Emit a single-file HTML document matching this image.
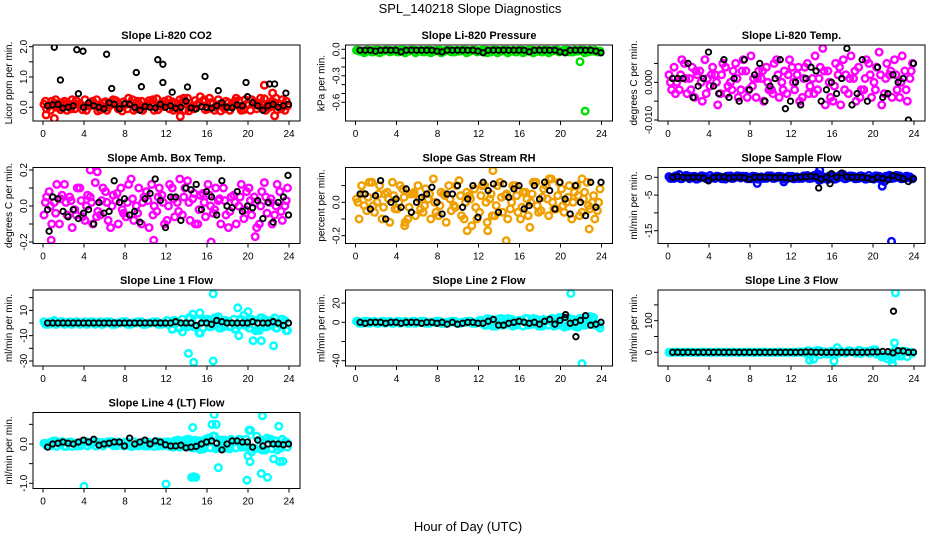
<!DOCTYPE html>
<html><head><meta charset="utf-8"><style>
html,body{margin:0;padding:0;background:#fff;width:936px;height:540px;overflow:hidden}
svg{display:block;font-family:"Liberation Sans",Arial,sans-serif}
</style></head><body>
<svg id="chart" width="936" height="540" viewBox="0 0 936 540" xmlns="http://www.w3.org/2000/svg">
<text x="470" y="13" font-size="13" text-anchor="middle">SPL_140218  Slope Diagnostics</text>
<text x="468" y="531" font-size="13" text-anchor="middle">Hour of Day (UTC)</text>
</svg>
<script>
const hrs=[0.25,0.75,1.25,1.75,2.25,2.75,3.25,3.75,4.25,4.75,5.25,5.75,6.25,6.75,7.25,7.75,8.25,8.75,9.25,9.75,10.25,10.75,11.25,11.75,12.25,12.75,13.25,13.75,14.25,14.75,15.25,15.75,16.25,16.75,17.25,17.75,18.25,18.75,19.25,19.75,20.25,20.75,21.25,21.75,22.25,22.75,23.25,23.75];
const xTicks=[0,4,8,12,16,20,24];

const co2A=[0.1,0.05,0.15,0.0,0.2,0.1,-0.05,0.12,0.25,0.05,0.1,-0.08,0.18,0.08,0.22,0.0,0.1,0.15,-0.05,0.2,0.05,0.12,0.28,0.02,0.1,0.18,-0.06,0.15,0.3,0.05,0.1,0.2,-0.05,0.12,0.25,0.0,0.15,0.08,0.22,-0.08,0.1,0.18,0.05,0.28,0.0,0.15,0.1,-0.1];
const co2B=[-0.05,0.2,0.0,0.15,-0.1,0.25,0.1,-0.08,0.05,0.2,-0.12,0.15,0.0,0.25,-0.05,0.18,0.3,-0.1,0.12,0.0,0.22,-0.1,0.05,0.2,-0.05,0.1,0.25,-0.1,0.0,0.22,0.35,-0.08,0.15,0.0,-0.12,0.2,0.05,0.3,-0.1,0.1,0.25,-0.05,0.15,0.0,0.2,-0.08,0.25,0.05];
const co2C=[0.2,-0.1,0.25,-0.08,0.12,-0.05,0.22,0.05,-0.1,0.15,0.25,0.05,-0.1,0.15,0.1,-0.12,-0.05,0.25,0.2,-0.1,0.12,0.25,-0.08,0.1,0.25,-0.1,0.12,0.3,-0.12,-0.05,0.15,0.25,0.3,-0.1,0.1,-0.05,-0.1,0.2,0.0,0.25,-0.1,0.08,0.3,-0.1,0.1,0.3,-0.05,0.2];
const co2Blk=[0.05,0.08,0.1,-0.03,0.0,0.05,0.45,0.0,0.15,0.05,0.0,-0.05,0.15,0.1,-0.05,0.12,0.1,0.0,-0.1,0.03,0.0,-0.02,0.1,0.0,0.05,-0.03,0.0,0.2,-0.02,-0.05,0.02,0.0,-0.03,0.05,0.15,0.0,-0.02,0.08,0.05,0.35,0.15,0.05,-0.1,0.05,0.1,0.0,0.05,0.1];
const co2OutH=[0.3,1.1,21.6,22.4,22.6,13.4,1.1,1.7,3.3,3.9,6.2,6.7,9.1,9.6,11.2,11.7,11.7,12.6,14.1,15.8,17.1,19.8,22.1,22.6,23.7];
const co2OutV=[-0.25,-0.37,0.73,0.47,-0.28,-0.3,1.98,0.9,1.9,1.85,1.75,0.62,1.15,0.68,1.57,1.42,0.82,0.5,0.67,1.02,0.55,0.82,0.77,0.77,0.47];
const co2OutK=[0,0,0,0,0,0,1,1,1,1,1,1,1,1,1,1,1,1,1,1,1,1,1,1,1];

const prA=[-0.01,-0.02,-0.01,-0.03,-0.01,-0.02,-0.01,-0.02,-0.03,-0.01,-0.02,-0.01,-0.02,-0.03,-0.01,-0.02,-0.01,-0.02,-0.01,-0.03,-0.02,-0.01,-0.02,-0.01,-0.02,-0.01,-0.03,-0.01,-0.02,-0.01,-0.02,-0.03,-0.01,-0.02,-0.01,-0.02,-0.03,-0.01,-0.02,-0.01,-0.02,-0.01,-0.03,-0.02,-0.01,-0.03,-0.02,-0.03];
const prB=[-0.02,-0.04,-0.02,-0.01,-0.04,-0.01,-0.03,-0.01,-0.01,-0.04,-0.01,-0.04,-0.01,-0.01,-0.04,-0.01,-0.04,-0.01,-0.03,-0.01,-0.01,-0.04,-0.01,-0.03,-0.01,-0.04,-0.01,-0.04,-0.01,-0.04,-0.01,-0.01,-0.04,-0.01,-0.04,-0.01,-0.01,-0.04,-0.01,-0.03,-0.01,-0.03,-0.01,-0.01,-0.04,-0.01,-0.01,-0.02];
const prC=prA;
const prBlk=[-0.01,-0.01,-0.01,-0.02,-0.01,-0.01,-0.01,-0.01,-0.03,-0.01,-0.01,-0.01,-0.01,-0.01,-0.01,-0.02,-0.03,-0.01,-0.01,-0.01,-0.01,-0.01,-0.01,-0.02,-0.04,-0.01,-0.01,-0.01,-0.01,-0.01,-0.01,-0.01,-0.01,-0.03,-0.01,-0.01,-0.01,-0.01,-0.01,-0.03,-0.04,-0.01,-0.01,-0.01,-0.01,-0.01,-0.02,-0.04];
const prOutH=[21.9,22.4];
const prOutV=[-0.14,-0.7];
const prOutK=[0,0];

const tmA=[0.002,0.004,-0.002,0.005,0.001,-0.004,0.003,0.006,-0.001,0.002,-0.003,0.004,0.0,0.005,-0.002,0.003,0.007,-0.004,0.001,0.004,-0.002,0.006,0.0,-0.003,0.004,0.002,-0.004,0.005,0.001,-0.002,0.009,0.003,-0.005,0.002,0.006,-0.003,0.001,0.004,-0.002,0.005,0.0,0.008,-0.003,0.002,0.006,-0.004,0.003,0.001];
const tmB=[-0.002,0.0,0.006,-0.003,0.004,0.002,-0.005,0.001,0.004,-0.006,0.005,-0.001,0.003,-0.004,0.006,-0.002,0.001,0.003,-0.005,-0.002,0.005,-0.004,0.003,0.006,-0.002,-0.005,0.004,-0.001,0.007,0.004,-0.006,-0.004,0.005,-0.006,0.002,0.007,-0.005,-0.002,0.006,-0.004,0.004,-0.006,0.005,-0.004,-0.002,0.007,-0.005,0.005];
const tmC=[0.0,-0.003,0.002,0.001,-0.002,0.003,0.0,-0.003,0.002,0.0,0.002,-0.003,-0.002,0.001,0.003,-0.004,-0.001,0.001,0.003,0.0,-0.003,0.002,-0.002,0.002,0.0,0.004,0.001,-0.003,-0.003,0.001,0.003,0.000,-0.001,0.004,-0.002,0.001,0.003,-0.004,0.001,0.002,-0.002,0.002,0.001,0.003,0.002,0.0,-0.002,0.003];
const tmBlk=[0.001,0.001,0.001,0.005,-0.004,-0.001,0.001,0.008,-0.001,-0.003,0.006,-0.004,0.001,-0.005,0.006,-0.002,0.002,0.005,-0.005,-0.001,0.001,0.006,-0.007,-0.005,0.0,-0.006,0.001,0.004,0.003,-0.005,-0.002,0.0,-0.003,0.001,0.009,-0.006,-0.003,0.006,-0.005,0.012,0.004,-0.004,-0.003,0.002,0.0,0.001,-0.010,0.005];
const tmOutH=[1.7,8.4,14.1,15.2,15.7,16.4,20.9,23.2];
const tmOutV=[-0.014,-0.016,0.018,0.018,-0.018,0.016,0.018,-0.019];
const tmOutK=[0,0,0,0,0,0,0,0];

const abA=[-0.05,0.08,0.02,-0.1,0.12,0.05,-0.02,0.1,-0.08,0.05,0.13,-0.05,0.08,-0.12,0.03,0.1,-0.06,0.15,0.0,-0.1,0.08,0.12,-0.03,0.06,-0.08,0.1,0.02,-0.05,0.14,0.04,-0.1,0.07,0.12,-0.04,0.03,0.1,-0.12,0.06,0.0,-0.07,0.1,0.05,-0.1,0.13,0.02,-0.05,0.08,0.0];
const abB=[0.05,-0.1,0.12,0.06,-0.05,-0.12,0.1,-0.06,0.06,-0.1,-0.03,0.1,-0.08,0.06,-0.1,-0.04,0.12,-0.08,0.1,0.05,-0.12,0.0,0.1,-0.1,0.12,-0.06,0.15,0.1,-0.08,-0.1,0.06,-0.06,0.0,0.1,-0.1,-0.05,0.05,-0.1,0.12,0.08,-0.05,-0.12,0.08,-0.04,-0.1,0.12,-0.08,0.1];
const abC=[0.02,0.0,-0.04,0.04,0.02,0.03,-0.05,0.03,0.0,0.02,-0.06,0.03,0.02,0.0,0.07,-0.02,0.02,0.04,-0.04,0.02,0.03,-0.05,0.05,0.02,0.0,0.04,-0.03,0.05,0.02,0.07,-0.02,0.02,0.06,-0.02,0.04,0.03,-0.03,0.02,0.05,-0.02,0.03,0.02,0.0,0.05,0.04,0.0,-0.03,0.03];
const abBlk=[-0.02,0.05,0.04,-0.03,-0.06,-0.02,-0.07,-0.04,-0.02,-0.1,0.02,-0.04,-0.03,0.14,0.02,0.04,-0.05,-0.03,-0.09,0.04,0.07,0.15,0.03,-0.12,0.05,0.05,-0.08,0.1,0.09,0.12,-0.02,0.08,0.05,-0.05,0.14,0.0,-0.01,0.08,-0.03,0.0,-0.01,0.03,-0.07,0.02,-0.09,0.02,0.05,-0.05];
const abOutH=[0.8,4.6,5.3,10.8,16.4,20.7,23.9,0.6];
const abOutV=[-0.19,0.2,0.19,-0.19,-0.2,-0.17,0.17,-0.14];
const abOutK=[0,0,0,0,0,0,1,1];

const rhA=[0.02,0.1,-0.05,0.12,0.0,-0.1,0.06,0.12,-0.04,0.08,-0.1,0.05,0.1,-0.06,0.02,0.14,-0.08,0.05,0.1,-0.02,0.13,-0.1,0.04,0.08,-0.06,0.1,0.02,-0.08,0.12,0.04,-0.04,0.1,-0.1,0.06,0.0,0.12,-0.05,0.1,0.14,-0.04,0.08,0.0,-0.1,0.1,-0.06,0.12,0.0,-0.05];
const rhB=[-0.1,-0.02,0.12,-0.06,0.1,0.05,-0.12,-0.04,0.1,-0.12,0.05,-0.08,-0.04,0.08,-0.1,-0.06,0.06,-0.12,-0.05,0.1,-0.08,0.06,-0.14,-0.1,0.1,-0.12,-0.08,0.1,-0.06,-0.1,0.1,-0.06,0.06,-0.08,0.12,-0.06,0.08,-0.08,-0.04,0.12,-0.06,0.1,0.06,-0.08,0.06,-0.04,-0.1,0.08];
const rhC=[0.0,0.05,0.03,-0.02,0.05,-0.03,0.02,0.04,0.0,0.03,-0.03,0.06,0.02,-0.02,0.05,0.0,-0.02,0.04,0.02,-0.03,0.04,0.0,0.02,-0.03,0.04,0.0,0.05,-0.02,0.03,0.05,0.0,0.04,-0.03,0.02,0.05,-0.02,0.03,0.02,0.0,0.04,-0.02,0.03,0.0,0.04,0.02,-0.02,0.04,0.0];
const rhBlk=[0.05,0.05,-0.04,0.04,0.13,-0.1,0.0,0.02,-0.03,0.08,-0.06,0.0,0.03,0.05,0.09,0.0,-0.07,0.05,0.05,0.1,-0.03,0.02,0.1,-0.09,0.12,0.07,0.11,-0.06,0.11,0.03,0.08,0.1,-0.04,-0.02,0.1,0.02,0.12,0.07,-0.04,0.12,0.02,-0.07,0.1,0.0,-0.08,0.12,-0.03,0.12];
const rhOutH=[10.9,12.9,13.4,14.7,17.0,18.9,22.1,22.8,4.8];
const rhOutV=[-0.17,-0.17,0.19,-0.23,-0.15,0.14,0.14,-0.16,-0.14];
const rhOutK=[0,0,0,0,0,0,0,0,0];

const sfA=[0.2,-0.3,0.8,0.1,-0.4,0.3,-0.2,0.2,0.5,-0.3,0.1,-0.5,0.4,0.0,-0.2,0.3,-0.4,0.2,0.1,-0.3,0.4,-0.1,0.2,-0.4,0.3,0.1,-0.3,0.5,-0.2,1.0,0.2,-0.6,0.4,-0.2,0.8,-0.1,0.3,-0.3,0.2,0.5,-0.5,0.3,-1.2,0.6,-0.2,0.4,-0.3,0.1];
const sfB=[-0.3,0.4,-0.4,0.5,0.2,-0.5,0.4,-0.4,-0.2,0.3,-0.4,0.3,-0.3,0.4,0.3,-0.4,0.3,-0.5,-0.3,0.4,-0.3,0.3,-0.5,0.3,-0.4,-0.3,0.4,-0.3,0.5,-0.8,-0.4,0.4,-0.5,0.5,-0.4,0.4,-0.4,0.4,-0.5,-0.3,0.4,-0.6,0.3,-0.3,0.5,-0.4,0.3,-0.4];
const sfC=sfB;
const sfBlk=[0.0,0.2,0.0,-0.1,0.0,0.0,-0.2,-1.0,0.0,0.0,0.1,-0.2,0.0,0.0,-0.1,-0.5,0.0,0.0,0.0,0.0,-0.1,0.0,-0.1,-0.4,0.0,0.0,0.1,0.3,0.1,-0.5,0.0,1.0,0.0,1.2,0.1,0.0,0.0,0.0,-0.2,-0.6,0.0,-0.3,-0.7,0.5,0.0,-0.4,-1.2,-0.4];
const sfOutH=[8.7,11.3,20.9,21.8,14.7,15.8,14.8];
const sfOutV=[-1.7,-1.3,-2.5,-18,-3.0,-1.8,2.0];
const sfOutK=[0,0,0,0,1,1,0];

const l1A=[1,-1,2,0,-1,1,0,-1,1,0,-1,1,0,1,-1,0,1,-1,0,1,-1,0,1,-1,2,-5,1,3,-3,7,2,-4,3,-2,5,-3,1,3,-2,6,-4,2,-6,3,-2,4,-1,2];
const l1B=[-1,1,-1,1,0,-1,1,0,-1,1,0,-1,1,-1,0,1,-1,0,1,-1,0,1,-1,0,-1,2,-4,-2,4,-3,-8,3,-3,4,-4,2,-3,-5,3,-2,3,-6,4,-3,2,-4,3,-6];
const l1C=l1B;
const l1Blk=[0,0,0,0,0,0,0,0,0,0,0,0,0,0,0,0,0,0,0,0,0,0,0,0,0,1,0,0,0,-2,0,0,-1,2,1,0,0,0,0,0,1,0,0,0,1,0,-2,0];
const l1OutH=[16.6,14.2,14.7,16.6,19.0,20.0,19.1,20.5,21.3,22.5,15.3,13.6,12.6];
const l1OutV=[23,-24,-31,-30,12,9,-10,-14,-14,-18,8,-7,-5];
const l1OutK=[0,0,0,0,0,0,0,0,0,0,0,0,0];

const l2A=[1,-1,1,0,-1,1,0,-1,1,0,-1,1,0,1,-1,0,1,-1,0,1,-1,0,1,-1,2,-3,3,-4,4,-2,3,-3,2,4,-2,3,-4,2,4,-3,5,-4,3,-5,4,-2,5,-3];
const l2B=[-1,1,-1,1,0,-1,1,0,-1,1,0,-1,1,-1,0,1,-1,0,1,-1,0,1,-1,0,-1,4,-4,3,-3,4,-4,2,-4,-3,4,-4,3,-3,-4,5,-5,4,-4,4,-3,6,-3,-6];
const l2C=l2A;
const l2Blk=[0,-1,0,0,0,-1,0,0,-1,0,0,0,-1,0,0,-1,0,-2,0,-2,-1,0,0,-1,-1,1,3,-3,-3,-1,0,1,0,-1,0,-2,1,3,-2,2,5,-1,0,2,7,-3,-2,0];
const l2OutH=[21.0,22.1,21.5,20.5];
const l2OutV=[30,-43,-15,8];
const l2OutK=[0,0,1,1];

const l3A=[0,0,0,0,0,0,0,0,0,0,0,0,0,0,0,0,0,0,0,0,0,0,0,0,0,0,0,5,-3,6,2,-5,3,-2,0,5,0,6,2,-3,8,-6,-10,-8,5,-12,3,0];
const l3B=[-1,1,-1,1,0,-1,1,0,-1,1,0,-1,1,-1,0,1,-1,0,1,-1,0,1,-1,0,-1,2,-3,-4,4,-8,-5,3,-6,4,-3,2,-3,-4,3,6,-6,-15,-20,-22,-8,4,-14,-2];
const l3C=l3A;
const l3Blk=[0,0,0,0,0,0,0,0,0,0,0,0,0,0,0,0,0,0,0,0,0,0,0,0,0,0,1,1,0,0,0,0,0,0,0,0,0,0,0,1,1,3,2,-2,5,4,0,0];
const l3OutH=[22.2,22.1,13.8,14.2,16.2,16.5,21.9,22.0];
const l3OutV=[188,30,-25,-22,-28,15,-35,130];
const l3OutK=[0,0,0,0,0,0,0,1];

const l4A=[0.02,-0.05,0.08,0.0,-0.06,0.05,0.02,-0.04,0.06,0.0,-0.05,0.04,0.0,0.06,-0.04,0.02,0.05,-0.06,0.0,0.04,-0.05,0.02,0.06,-0.04,0.05,-0.08,0.1,-0.05,0.12,-0.1,0.08,-0.12,0.15,0.2,-0.1,0.1,-0.12,0.06,0.12,-0.08,0.35,-0.12,0.1,-0.15,0.12,0.08,-0.1,0.05];
const l4B=[-0.04,0.06,-0.06,0.06,0.04,-0.06,-0.05,0.05,-0.05,0.05,0.05,-0.05,0.06,-0.04,0.05,-0.05,-0.04,0.06,-0.05,-0.05,0.04,-0.06,-0.05,0.05,-0.06,0.08,-0.08,0.1,-0.08,0.1,-0.14,0.12,-0.1,-0.12,0.1,-0.1,0.12,-0.1,-0.08,0.12,-0.2,0.2,-0.15,0.15,-0.12,-0.15,0.12,-0.08];
const l4C=l4A;
const l4Blk=[-0.08,0.0,0.02,0.05,0.02,0.0,0.05,0.1,0.05,0.12,-0.03,0.0,0.02,0.05,0.05,-0.05,0.15,0.0,0.05,0.1,0.0,0.08,0.05,-0.02,-0.05,-0.05,-0.03,-0.1,-0.08,-0.06,0.0,0.05,0.08,0.02,-0.15,0.0,0.08,0.08,0.05,0.05,-0.08,0.1,-0.05,0.0,0.0,0.0,-0.02,0.0];
const l4OutH=[4.0,12.0,14.5,14.7,14.9,16.5,16.7,16.9,17.1,19.9,20.0,20.2,21.3,21.4,21.9,22.5,23.0,23.1,23.4,14.6];
const l4OutV=[-1.08,-1.02,-0.85,-0.83,-0.85,0.5,0.75,0.5,-0.6,-0.92,-0.3,-0.45,-0.75,0.72,-0.85,-0.38,0.45,-0.45,-0.44,0.42];
const l4OutK=[0,0,0,0,0,0,0,0,0,0,0,0,0,0,0,0,0,0,0,0];

const yTicksCO2=[0,0.5,1,1.5,2], yLabCO2=["0.0","","1.0","","2.0"];
const yTicksPr=[0,-0.1,-0.2,-0.3,-0.4,-0.5,-0.6], yLabPr=["0.0","","","-0.3","","","-0.6"];
const yTicksTm=[-0.01,-0.005,0,0.005], yLabTm=["-0.010","","0.000",""];
const yTicksAb=[-0.2,-0.1,0,0.1,0.2], yLabAb=["-0.2","","0.0","","0.2"];
const yTicksRh=[-0.2,-0.1,0,0.1], yLabRh=["-0.2","","0.0",""];
const yTicksSf=[0,-5,-10,-15], yLabSf=["0","-5","","-15"];
const yTicksL1=[20,10,0,-10,-20,-30], yLabL1=["","10","","-10","","-30"];
const yTicksL2=[20,0,-20,-40], yLabL2=["20","0","","-40"];
const yTicksL3=[0,50,100,150], yLabL3=["0","","100",""];
const yTicksL4=[0.5,0,-0.5,-1], yLabL4=["","0.0","","-1.0"];

const panels=[
 {name:'co2',title:'Slope Li-820 CO2',ylab:'Licor ppm per min.',c:0,r:0,col:'#ff0000',ref:[0,107.3,2,46.7],A:co2A,B:co2B,C:co2C,K:co2Blk,oh:co2OutH,ov:co2OutV,ok:co2OutK,yt:yTicksCO2,yl:yLabCO2},
 {name:'pressure',title:'Slope Li-820 Pressure',ylab:'kPa per min.',c:1,r:0,col:'#00e000',ref:[0,49.3,-0.6,102.3],A:prA,B:prB,C:prC,K:prBlk,oh:prOutH,ov:prOutV,ok:prOutK,yt:yTicksPr,yl:yLabPr},
 {name:'temp',title:'Slope Li-820 Temp.',ylab:'degrees C per min.',c:2,r:0,col:'#ff00ff',ref:[0,82.3,-0.01,120],A:tmA,B:tmB,C:tmC,K:tmBlk,oh:tmOutH,ov:tmOutV,ok:tmOutK,yt:yTicksTm,yl:yLabTm},
 {name:'amb-box-temp',title:'Slope Amb. Box Temp.',ylab:'degrees C per min.',c:0,r:1,col:'#ff00ff',ref:[0,83.5,0.2,47.5],A:abA,B:abB,C:abC,K:abBlk,oh:abOutH,ov:abOutV,ok:abOutK,yt:yTicksAb,yl:yLabAb},
 {name:'gas-stream-rh',title:'Slope Gas Stream RH',ylab:'percent per min.',c:1,r:1,col:'#f0a000',ref:[0,79.8,-0.2,113.2],A:rhA,B:rhB,C:rhC,K:rhBlk,oh:rhOutH,ov:rhOutV,ok:rhOutK,yt:yTicksRh,yl:yLabRh},
 {name:'sample-flow',title:'Slope Sample Flow',ylab:'ml/min per min.',c:2,r:1,col:'#0000ff',ref:[0,54.8,-15,108.2],A:sfA,B:sfB,C:sfC,K:sfBlk,oh:sfOutH,ov:sfOutV,ok:sfOutK,yt:yTicksSf,yl:yLabSf},
 {name:'line1-flow',title:'Slope Line 1 Flow',ylab:'ml/min per min.',c:0,r:2,col:'#00ffff',ref:[0,78,-30,116],A:l1A,B:l1B,C:l1C,K:l1Blk,oh:l1OutH,ov:l1OutV,ok:l1OutK,yt:yTicksL1,yl:yLabL1},
 {name:'line2-flow',title:'Slope Line 2 Flow',ylab:'ml/min per min.',c:1,r:2,col:'#00ffff',ref:[0,77.3,-40,115.7],A:l2A,B:l2B,C:l2C,K:l2Blk,oh:l2OutH,ov:l2OutV,ok:l2OutK,yt:yTicksL2,yl:yLabL2},
 {name:'line3-flow',title:'Slope Line 3 Flow',ylab:'ml/min per min.',c:2,r:2,col:'#00ffff',ref:[0,107.3,100,75.7],A:l3A,B:l3B,C:l3C,K:l3Blk,oh:l3OutH,ov:l3OutV,ok:l3OutK,yt:yTicksL3,yl:yLabL3},
 {name:'line4-flow',title:'Slope Line 4 (LT) Flow',ylab:'ml/min per min.',c:0,r:3,col:'#00ffff',ref:[0,76.5,-1,115.8],A:l4A,B:l4B,C:l4C,K:l4Blk,oh:l4OutH,ov:l4OutV,ok:l4OutK,yt:yTicksL4,yl:yLabL4}
];
const NS='http://www.w3.org/2000/svg';
const svg=document.getElementById('chart');
function mk(tag,attrs,parent){const e=document.createElementNS(NS,tag);for(const k in attrs)e.setAttribute(k,attrs[k]);parent.appendChild(e);return e;}
const colLeft=[33,345.5,658];
panels.forEach(p=>{
  const left=colLeft[p.c], top=45+122.5*p.r, W=267, H=76, dy=top-45;
  const g=mk('g',{},svg);
  
  
  const xs=h=>left+10+h*(246/24);
  const ys=v=>dy+p.ref[1]+(v-p.ref[0])*(p.ref[3]-p.ref[1])/(p.ref[2]-p.ref[0]);
  const clip=mk('clipPath',{id:'clip-'+p.name},g);
  mk('rect',{x:left,y:top,width:W,height:H},clip);
  const t=mk('text',{x:left+W/2,y:top-6,'font-size':11,'font-weight':'bold','text-anchor':'middle'},g);
  t.textContent=p.title;
  
  
  const yl=mk('text',{x:0,y:0,'font-size':10,'text-anchor':'middle',transform:`translate(${left-21},${top+H/2}) rotate(-90)`},g);
  yl.textContent=p.ylab;
  
  
  const pts=mk('g',{'clip-path':`url(#clip-${p.name})`,fill:'none'},g);
  
  
  function dot(h,v,black){
    const c=mk('circle',{cx:xs(h).toFixed(1),cy:ys(v).toFixed(1),r:black?2.7:3.3,stroke:black?'#000':p.col,'stroke-width':black?1.9:2.4},pts);
    
    
  }
  hrs.forEach((h,i)=>dot(h-0.15,p.A[i],false));
  hrs.forEach((h,i)=>dot(h+0.1,p.B[i],false));
  hrs.forEach((h,i)=>dot(h-0.02,p.C[i],false));
  p.oh.forEach((h,i)=>{if(!p.ok[i])dot(h,p.ov[i],false);});
  hrs.forEach((h,i)=>dot(h+0.2,p.K[i],true));
  p.oh.forEach((h,i)=>{if(p.ok[i])dot(h,p.ov[i],true);});
  const box=mk('rect',{x:left,y:top,width:W,height:H,fill:'none',stroke:'#000','stroke-width':1},g);
  
  
  const xa=mk('g',{},g);
  
  
  xTicks.forEach(v=>{
    mk('line',{x1:xs(v),x2:xs(v),y1:top+H,y2:top+H+4,stroke:'#000'},xa);
    const tx=mk('text',{x:xs(v),y:top+H+16,'font-size':10,'text-anchor':'middle'},xa);
    tx.textContent=String(v);
  });
  const ya=mk('g',{},g);
  
  
  p.yt.forEach((v,i)=>{
    const y=ys(v);
    mk('line',{x1:left-4,x2:left,y1:y,y2:y,stroke:'#000'},ya);
    if(p.yl[i]){
      const tx=mk('text',{x:0,y:0,'font-size':10,'text-anchor':'middle',transform:`translate(${left-6},${y}) rotate(-90)`},ya);
      tx.textContent=p.yl[i];
    }
  });
});
</script>
</body></html>
